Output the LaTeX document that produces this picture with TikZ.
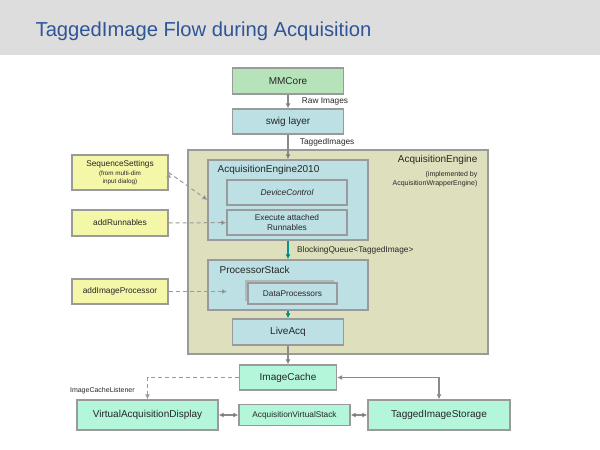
\documentclass[tikz,border=0pt]{standalone}
\usepackage{fontspec}
\setmainfont{Liberation Sans}
\usetikzlibrary{shapes,arrows.meta}

\definecolor{hdrgray}{HTML}{DDDDDD}
\definecolor{titleblue}{HTML}{2E5597}
\definecolor{coregreen}{HTML}{B6E3B9}
\definecolor{swigblue}{HTML}{BCE0E4}
\definecolor{engolive}{HTML}{DEE0BD}
\definecolor{inyellow}{HTML}{F4F6A8}
\definecolor{outmint}{HTML}{B3F6DA}
\definecolor{boxgray}{HTML}{9A9A9A}
\definecolor{linegray}{HTML}{8A8A8A}
\definecolor{queueteal}{HTML}{00958F}
\definecolor{stackgray}{HTML}{AEB9BC}

\begin{document}
\begin{tikzpicture}[
			x = 1pt, y = -1pt,
			> = {Latex[length=5pt,width=5pt]},
			semithick,
			text = black!85,
			font = \fontsize{10}{12}\selectfont]
			\tikzstyle{box}=[
			rectangle,
			draw = boxgray,
			line width = 1.3pt,
			align = center,
			inner sep = 1pt]
			\tikzstyle{corebox}=[box, fill = coregreen]
			\tikzstyle{engbox}=[box, fill = swigblue]
			\tikzstyle{inbox}=[box, fill = inyellow, font = \fontsize{8.3}{10}\selectfont]
			\tikzstyle{outbox}=[box, fill = outmint]
			\tikzstyle{smalltext}=[font = \fontsize{8.3}{10}\selectfont]
			\tikzstyle{tinytext}=[font = \fontsize{7}{9}\selectfont]
			\tikzstyle{flowline}=[draw = linegray, line width = 1.2pt]
			\tikzstyle{hookline}=[draw = boxgray, line width = 1pt, dash pattern = on 4pt off 3pt]
			\tikzstyle{queueline}=[draw = queueteal, line width = 1.6pt]

			\fill[hdrgray] (0,0) rectangle (600,55);
			\useasboundingbox (0,0) rectangle (600,450);
			\node[anchor = base west, text = titleblue, font = \fontsize{20.2}{24}\selectfont] (title) at (32,36) {TaggedImage Flow during Acquisition};

			% engine block
			\node[box, fill = engolive, minimum width = 300pt, minimum height = 204pt] (acqengine) at (338,252) {};
			\node[anchor = east] (acqlabel) at (481,160) {AcquisitionEngine};
			\node[tinytext, anchor = north east, align = right] (acqnote) at (481,168) {(implemented by\\AcquisitionWrapperEngine)};

			\node[corebox, minimum width = 111pt, minimum height = 26pt] (mmcore) at (288,81) {MMCore};
			\node[engbox, minimum width = 111pt, minimum height = 25pt] (swig) at (288,121.5) {swig layer};

			\node[engbox, minimum width = 160pt, minimum height = 80pt] (ae2010) at (288,200) {};
			\node[anchor = west] (ae2010lbl) at (214,170) {AcquisitionEngine2010};
			\node[engbox, minimum width = 120pt, minimum height = 25pt, font = \fontsize{8.4}{10}\selectfont\itshape] (devctrl) at (287,192.5) {DeviceControl};
			\node[engbox, smalltext, minimum width = 120pt, minimum height = 25pt] (runnables) at (287,222.5) {Execute attached\\Runnables};

			\node[engbox, minimum width = 160pt, minimum height = 50pt] (procstack) at (288,285) {};
			\node[anchor = west] (procstacklbl) at (216,270) {ProcessorStack};
			\node[fill = stackgray, minimum width = 89pt, minimum height = 21pt] (dpshadow) at (289.5,290.5) {};
			\node[engbox, smalltext, minimum width = 89pt, minimum height = 21pt] (dataproc) at (292.5,293.5) {DataProcessors};
			\coordinate (dpin) at (227,291.5);

			\node[engbox, minimum width = 111pt, minimum height = 26pt] (liveacq) at (288,332) {LiveAcq};

			% inputs
			\node[inbox, minimum width = 96pt, minimum height = 35pt, font = \fontsize{6.3}{8.4}\selectfont] (seqset) at (120,172.5) {{\fontsize{8.3}{10}\selectfont SequenceSettings}\\[0.5pt](from multi-dim\\input dialog)};
			\node[inbox, minimum width = 96pt, minimum height = 26pt] (addrun) at (120,223) {addRunnables};
			\node[inbox, minimum width = 96pt, minimum height = 25pt] (addimgproc) at (120,291.5) {addImageProcessor};

			% outputs
			\node[outbox, minimum width = 97pt, minimum height = 25pt] (imagecache) at (288,377.5) {ImageCache};
			\node[outbox, minimum width = 141pt, minimum height = 30pt] (vad) at (147.5,415) {VirtualAcquisitionDisplay};
			\node[outbox, smalltext, minimum width = 111pt, minimum height = 21pt] (avs) at (294.5,415) {AcquisitionVirtualStack};
			\node[outbox, minimum width = 142pt, minimum height = 30pt] (tis) at (439,415) {TaggedImageStorage};

			\path[->, flowline] (mmcore) edge node[smalltext, right = 10pt] (rawlbl) {Raw Images} (swig);
			\path[->, flowline] (swig) edge node[smalltext, pos = 0.3, right = 8pt] (taggedlbl) {TaggedImages} (ae2010);
			\path[->, queueline] (ae2010) edge node[smalltext, right = 5pt] (queuelbl) {BlockingQueue<TaggedImage>} (procstack);
			\path[->, queueline] (procstack) edge (liveacq);
			\path[->, flowline] (liveacq) edge (imagecache);

			\path[->, hookline] (seqset.east) edge (ae2010.west);
			\path[->, hookline] (addrun) edge (runnables);
			\path[->, hookline] (addimgproc) edge (dpin);

			\draw[->, hookline] (imagecache.west) -| node[tinytext, pos = 0.8, left = 9pt] (listenlbl) {ImageCacheListener} (vad.north);
			\draw[<->, flowline] (imagecache.east) -| (tis.north);
			\path[<->, flowline] (vad) edge (avs);
			\path[<->, flowline] (avs) edge (tis);
		\end{tikzpicture}
\end{document}
